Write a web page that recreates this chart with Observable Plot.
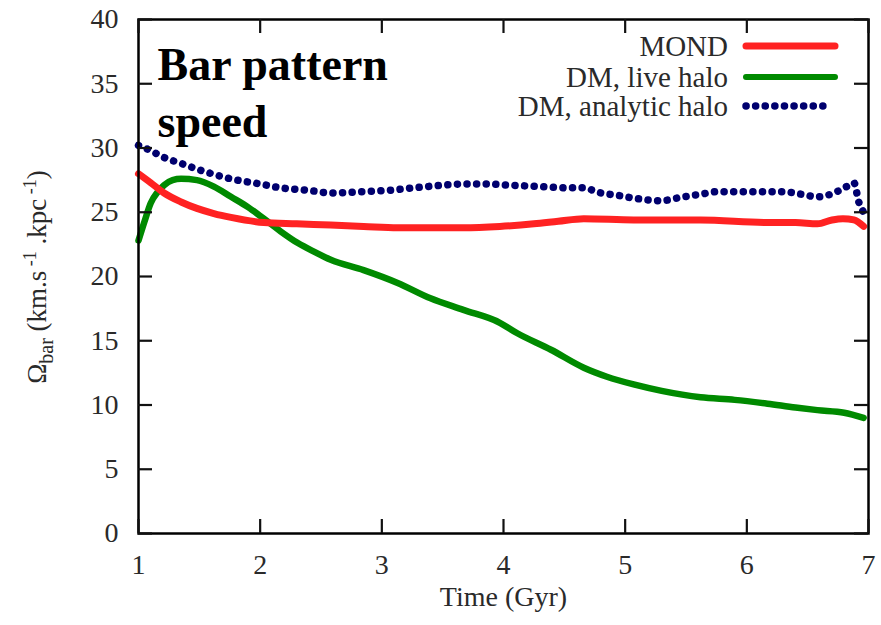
<!DOCTYPE html>
<html>
<head>
<meta charset="utf-8">
<script src="https://cdn.jsdelivr.net/npm/d3@7"></script>
<script src="https://cdn.jsdelivr.net/npm/@observablehq/plot@0.6"></script>
</head>
<body style="margin:0">
<div id="chart"></div>
<script>
// ---- data ----
const xTicks = [1, 2, 3, 4, 5, 6, 7];
const yTicks = [0, 5, 10, 15, 20, 25, 30, 35, 40];

const seriesNames = ["MOND", "DM, live halo", "DM, analytic halo"];

const mondT = [1.0, 1.1, 1.21, 1.35, 1.48, 1.62, 1.76, 2.03, 2.3, 2.58, 2.85, 3.13, 3.4, 3.67, 3.97, 4.25, 4.45, 4.66, 5.07, 5.62, 6.17, 6.4, 6.58, 6.7, 6.79, 6.88, 6.96];
const mondV = [28.0, 27.3, 26.5, 25.8, 25.3, 24.9, 24.6, 24.2, 24.1, 24.0, 23.9, 23.8, 23.8, 23.8, 23.9, 24.1, 24.3, 24.5, 24.4, 24.4, 24.2, 24.2, 24.1, 24.4, 24.5, 24.4, 23.9];

const liveT = [1.0, 1.05, 1.10, 1.16, 1.21, 1.28, 1.35, 1.48, 1.62, 1.76, 1.9, 2.03, 2.17, 2.31, 2.45, 2.58, 2.85, 3.13, 3.4, 3.67, 3.97, 4.11, 4.39, 4.66, 4.85, 5.07, 5.3, 5.62, 5.9, 6.17, 6.4, 6.58, 6.8, 6.96];
const liveV = [22.8, 24.3, 25.7, 26.6, 27.1, 27.5, 27.6, 27.5, 27.0, 26.2, 25.4, 24.5, 23.5, 22.6, 21.9, 21.3, 20.5, 19.5, 18.3, 17.4, 16.4, 15.6, 14.3, 12.9, 12.2, 11.6, 11.1, 10.6, 10.4, 10.1, 9.8, 9.6, 9.4, 9.0];

const anaT = [1.0, 1.1, 1.2, 1.35, 1.5, 1.76, 2.0, 2.17, 2.4, 2.58, 2.85, 3.05, 3.26, 3.5, 3.67, 3.85, 4.06, 4.3, 4.52, 4.65, 4.8, 4.95, 5.07, 5.29, 5.48, 5.62, 5.76, 6.03, 6.3, 6.45, 6.58, 6.74, 6.82, 6.88, 6.92, 6.96];
const anaV = [30.2, 29.8, 29.3, 28.8, 28.3, 27.6, 27.2, 26.9, 26.7, 26.5, 26.6, 26.7, 26.9, 27.1, 27.2, 27.2, 27.1, 27.0, 26.9, 26.9, 26.5, 26.3, 26.1, 25.9, 26.2, 26.4, 26.6, 26.6, 26.6, 26.4, 26.2, 26.6, 27.0, 27.3, 25.8, 25.0];

const colors = ["#ff2222", "#008a00", "#00006e"];

// ---- build tables ----
const mond = mondT.map((t, i) => ({t, v: mondV[i]}));
const live = liveT.map((t, i) => ({t, v: liveV[i]}));
const ana = anaT.map((t, i) => ({t, v: anaV[i]}));

const serif = "Liberation Serif";
const ink = "#2a2a2a";

const W = 881, H = 625, mL = 138, mR = 13, mT = 19, mB = 92;
const plotW = W - mL - mR, plotH = H - mT - mB, tickLen = 14;
const xMin = 1, xMax = 7, yMin = 0, yMax = 40;
// tick length expressed in data units of each scale
const tickDY = (yMax - yMin) * tickLen / plotH;
const tickDX = (xMax - xMin) * tickLen / plotW;

const chart = Plot.plot({
  width: W,
  height: H,
  marginLeft: mL,
  marginRight: mR,
  marginTop: mT,
  marginBottom: mB,
  x: {domain: [xMin, xMax]},
  y: {domain: [yMin, yMax]},
  marks: [
    // tick labels
    Plot.axisX({ticks: xTicks, tickSize: 0, tickPadding: 21, label: null, tickFormat: d => d, fontSize: 28, fontFamily: serif, fill: ink}),
    Plot.axisY({ticks: yTicks, tickSize: 0, tickPadding: 20, label: null, tickFormat: d => d, fontSize: 28, fontFamily: serif, fill: ink}),
    // series
    Plot.line(live, {x: "t", y: "v", stroke: colors[1], strokeWidth: 6.5, strokeLinecap: "round", curve: "monotone-x"}),
    Plot.line(mond, {x: "t", y: "v", stroke: colors[0], strokeWidth: 7, strokeLinecap: "round", curve: "monotone-x"}),
    Plot.line(ana, {x: "t", y: "v", stroke: colors[2], strokeWidth: 7.5, strokeLinecap: "round", strokeDasharray: "0.1 9.5", curve: "monotone-x"}),
    Plot.frame({strokeWidth: 2.5}),
    // inward, mirrored tick marks drawn as short rules through the scales
    Plot.ruleX(xTicks, {x: d => d, y1: yMin, y2: yMin + tickDY, stroke: "#111", strokeWidth: 2.2}),
    Plot.ruleX(xTicks, {x: d => d, y1: yMax - tickDY, y2: yMax, stroke: "#111", strokeWidth: 2.2}),
    Plot.ruleY(yTicks, {y: d => d, x1: xMin, x2: xMin + tickDX, stroke: "#111", strokeWidth: 2.2}),
    Plot.ruleY(yTicks, {y: d => d, x1: xMax - tickDX, x2: xMax, stroke: "#111", strokeWidth: 2.2}),
    // panel annotation
    Plot.text(["Bar pattern\nspeed"], {frameAnchor: "top-left", dx: 19, dy: 20, lineAnchor: "top", textAnchor: "start",
      fontSize: 46, fontWeight: "bold", fill: "#000", lineHeight: 1.24, fontFamily: serif}),
    // x label
    Plot.text(["Time (Gyr)"], {frameAnchor: "bottom", dy: 72, fontSize: 28, fill: ink, fontFamily: serif})
  ]
});

document.getElementById("chart").appendChild(chart);
const svg = d3.select(chart);

// ---- y label with subscript / superscripts ----
const yl = svg.append("text")
  .attr("transform", "translate(46,277) rotate(-90)")
  .attr("text-anchor", "middle")
  .attr("font-family", serif)
  .attr("font-size", 27)
  .attr("fill", ink);
yl.append("tspan").text("Ω");
yl.append("tspan").attr("font-size", 20).attr("dy", 7).text("bar");
yl.append("tspan").attr("dy", -7).text(" (km.s");
yl.append("tspan").attr("font-size", 18).attr("dy", -10).text(" -1");
yl.append("tspan").attr("dy", 10).text(" .kpc");
yl.append("tspan").attr("font-size", 18).attr("dy", -10).text(" -1");
yl.append("tspan").attr("dy", 10).text(")");

// ---- legend (top-right, inside the frame) ----
const legendRows = [46, 77, 106];
const lg = svg.append("g").attr("font-family", serif).attr("font-size", 29).attr("fill", ink);
seriesNames.forEach((name, i) => {
  lg.append("text").attr("x", 728).attr("y", legendRows[i]).attr("dy", "0.35em")
    .attr("text-anchor", "end").text(name);
  const ln = lg.append("line").attr("x1", 746).attr("x2", i === 2 ? 828 : 835)
    .attr("y1", legendRows[i]).attr("y2", legendRows[i])
    .attr("stroke", colors[i]).attr("stroke-linecap", "round");
  if (i === 0) ln.attr("stroke-width", 7);
  if (i === 1) ln.attr("stroke-width", 6);
  if (i === 2) ln.attr("stroke-width", 7.5).attr("stroke-dasharray", "0.1 9.5");
});
</script>
</body>
</html>
